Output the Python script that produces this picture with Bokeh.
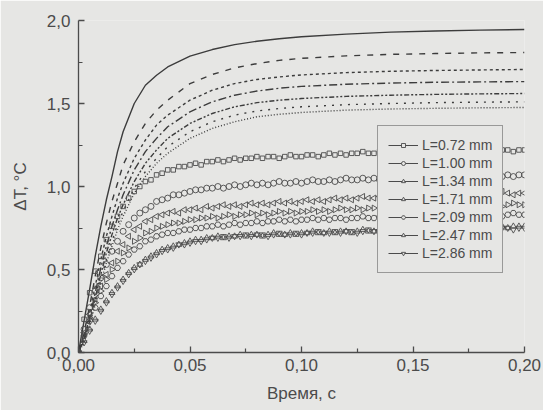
from bokeh.plotting import figure
from bokeh.models import FixedTicker, Legend, LegendItem
from bokeh.embed import file_html
from bokeh.resources import INLINE

# ---------------- data ----------------
x_ticks = [0.0, 0.05, 0.10, 0.15, 0.20]
x_tick_labels = ["0,00", "0,05", "0,10", "0,15", "0,20"]
x_minor = [0.025, 0.075, 0.125, 0.175]
y_ticks = [0.0, 0.5, 1.0, 1.5, 2.0]
y_tick_labels = ["0,0", "0,5", "1,0", "1,5", "2,0"]
y_minor = [0.25, 0.75, 1.25, 1.75]

# model (calculated) curves
t_model = [0, 0.0025, 0.005, 0.0075, 0.01, 0.0125, 0.015, 0.0175, 0.02, 0.025, 0.03, 0.035,
           0.04, 0.05, 0.06, 0.07, 0.08, 0.09, 0.10, 0.12, 0.14, 0.16, 0.18, 0.20]
model_solid = [0, 0.19, 0.38, 0.58, 0.76, 0.92, 1.06, 1.21, 1.33, 1.50, 1.61, 1.67,
               1.72, 1.785, 1.825, 1.855, 1.875, 1.89, 1.902, 1.918, 1.93, 1.937, 1.942, 1.946]
model_dash = [0, 0.12, 0.28, 0.46, 0.63, 0.78, 0.91, 1.02, 1.13, 1.27, 1.38, 1.46,
              1.52, 1.62, 1.675, 1.715, 1.74, 1.76, 1.772, 1.787, 1.796, 1.801, 1.805, 1.807]
model_dot = [0, 0.10, 0.24, 0.40, 0.56, 0.70, 0.82, 0.93, 1.02, 1.17, 1.28, 1.37,
             1.43, 1.52, 1.58, 1.62, 1.645, 1.66, 1.672, 1.686, 1.694, 1.699, 1.702, 1.705]
model_dashdot = [0, 0.09, 0.21, 0.36, 0.51, 0.64, 0.76, 0.86, 0.95, 1.10, 1.21, 1.29,
                 1.36, 1.45, 1.51, 1.55, 1.575, 1.592, 1.603, 1.616, 1.623, 1.628, 1.630, 1.632]
model_dashdotdot = [0, 0.08, 0.19, 0.33, 0.47, 0.60, 0.71, 0.81, 0.89, 1.03, 1.14, 1.22,
                    1.29, 1.38, 1.44, 1.48, 1.505, 1.52, 1.53, 1.543, 1.55, 1.555, 1.558, 1.56]
model_sparsedot = [0, 0.07, 0.18, 0.31, 0.44, 0.56, 0.67, 0.77, 0.85, 0.99, 1.09, 1.17,
                   1.24, 1.33, 1.39, 1.43, 1.455, 1.47, 1.48, 1.493, 1.50, 1.505, 1.508, 1.51]
model_densedot = [0, 0.06, 0.16, 0.29, 0.42, 0.54, 0.64, 0.74, 0.82, 0.96, 1.06, 1.14,
                  1.20, 1.29, 1.35, 1.39, 1.42, 1.435, 1.446, 1.46, 1.467, 1.471, 1.474, 1.476]

# experimental curves
t_exp = [0.0000, 0.0025, 0.0050, 0.0075, 0.0100, 0.0125, 0.0150, 0.0175, 0.0200, 0.0225,
         0.0250, 0.0275, 0.0300, 0.0325, 0.0350, 0.0375, 0.0400, 0.0425, 0.0450, 0.0475,
         0.0500, 0.0525, 0.0550, 0.0575, 0.0600, 0.0625, 0.0650, 0.0675, 0.0700, 0.0725,
         0.0750, 0.0775, 0.0800, 0.0825, 0.0850, 0.0875, 0.0900, 0.0925, 0.0950, 0.0975,
         0.1000, 0.1025, 0.1050, 0.1075, 0.1100, 0.1125, 0.1150, 0.1175, 0.1200, 0.1225,
         0.1250, 0.1275, 0.1300, 0.1325, 0.1350, 0.1375, 0.1400, 0.1425, 0.1450, 0.1475,
         0.1500, 0.1525, 0.1550, 0.1575, 0.1600, 0.1625, 0.1650, 0.1675, 0.1700, 0.1725,
         0.1750, 0.1775, 0.1800, 0.1825, 0.1850, 0.1875, 0.1900, 0.1925, 0.1950, 0.1975,
         0.2000]
exp_L072 = [0.00, 0.20, 0.36, 0.49, 0.58, 0.68, 0.76, 0.82, 0.88, 0.93,
            0.97, 1.00, 1.03, 1.04, 1.07, 1.08, 1.10, 1.10, 1.12, 1.12,
            1.13, 1.14, 1.13, 1.15, 1.15, 1.16, 1.15, 1.16, 1.17, 1.16,
            1.17, 1.17, 1.18, 1.17, 1.18, 1.18, 1.17, 1.18, 1.19, 1.18,
            1.18, 1.19, 1.19, 1.18, 1.19, 1.20, 1.19, 1.20, 1.19, 1.20,
            1.20, 1.21, 1.20, 1.20, 1.21, 1.20, 1.21, 1.21, 1.20, 1.21,
            1.21, 1.22, 1.21, 1.21, 1.22, 1.21, 1.22, 1.21, 1.22, 1.22,
            1.21, 1.22, 1.22, 1.21, 1.22, 1.23, 1.22, 1.22, 1.21, 1.22,
            1.22]
exp_L100 = [0.00, 0.14, 0.27, 0.37, 0.45, 0.53, 0.61, 0.67, 0.73, 0.77,
            0.81, 0.84, 0.86, 0.88, 0.91, 0.92, 0.93, 0.95, 0.95, 0.96,
            0.97, 0.98, 0.98, 0.99, 0.99, 1.00, 0.99, 1.00, 1.01, 1.00,
            1.01, 1.02, 1.01, 1.02, 1.01, 1.02, 1.03, 1.02, 1.02, 1.03,
            1.02, 1.03, 1.04, 1.03, 1.03, 1.04, 1.03, 1.04, 1.05, 1.04,
            1.04, 1.05, 1.04, 1.05, 1.04, 1.05, 1.06, 1.05, 1.05, 1.06,
            1.05, 1.06, 1.05, 1.06, 1.06, 1.05, 1.06, 1.07, 1.06, 1.06,
            1.07, 1.06, 1.06, 1.07, 1.06, 1.07, 1.06, 1.07, 1.06, 1.07,
            1.07]
exp_L134 = [0.00, 0.12, 0.23, 0.32, 0.40, 0.47, 0.54, 0.61, 0.65, 0.70,
            0.74, 0.76, 0.79, 0.80, 0.82, 0.83, 0.84, 0.85, 0.84, 0.86,
            0.86, 0.87, 0.86, 0.88, 0.87, 0.88, 0.89, 0.88, 0.89, 0.88,
            0.89, 0.90, 0.89, 0.90, 0.89, 0.90, 0.91, 0.90, 0.91, 0.90,
            0.91, 0.92, 0.91, 0.92, 0.91, 0.92, 0.93, 0.92, 0.93, 0.92,
            0.93, 0.94, 0.93, 0.93, 0.94, 0.93, 0.94, 0.95, 0.94, 0.94,
            0.95, 0.94, 0.95, 0.94, 0.95, 0.96, 0.95, 0.95, 0.96, 0.95,
            0.96, 0.95, 0.96, 0.96, 0.95, 0.96, 0.97, 0.96, 0.95, 0.96,
            0.96]
exp_L171 = [0.00, 0.11, 0.21, 0.30, 0.37, 0.44, 0.50, 0.55, 0.60, 0.63,
            0.67, 0.69, 0.72, 0.73, 0.75, 0.76, 0.77, 0.78, 0.78, 0.79,
            0.80, 0.80, 0.81, 0.81, 0.82, 0.81, 0.82, 0.83, 0.82, 0.83,
            0.83, 0.84, 0.83, 0.84, 0.83, 0.84, 0.85, 0.84, 0.85, 0.84,
            0.85, 0.85, 0.86, 0.85, 0.86, 0.85, 0.86, 0.87, 0.86, 0.86,
            0.87, 0.86, 0.87, 0.87, 0.86, 0.87, 0.88, 0.87, 0.87, 0.88,
            0.87, 0.88, 0.87, 0.88, 0.88, 0.87, 0.88, 0.89, 0.88, 0.88,
            0.89, 0.88, 0.89, 0.88, 0.89, 0.89, 0.88, 0.89, 0.90, 0.89,
            0.89]
exp_L209 = [0.00, 0.10, 0.19, 0.27, 0.34, 0.40, 0.46, 0.51, 0.55, 0.59,
            0.62, 0.64, 0.67, 0.68, 0.70, 0.71, 0.72, 0.72, 0.73, 0.74,
            0.74, 0.75, 0.75, 0.76, 0.76, 0.77, 0.76, 0.77, 0.78, 0.77,
            0.78, 0.78, 0.79, 0.78, 0.79, 0.79, 0.80, 0.79, 0.80, 0.79,
            0.80, 0.80, 0.81, 0.80, 0.81, 0.80, 0.81, 0.81, 0.80, 0.81,
            0.81, 0.82, 0.81, 0.81, 0.82, 0.81, 0.82, 0.82, 0.81, 0.82,
            0.82, 0.83, 0.82, 0.82, 0.83, 0.82, 0.83, 0.82, 0.83, 0.83,
            0.82, 0.83, 0.83, 0.84, 0.83, 0.83, 0.82, 0.83, 0.84, 0.83,
            0.83]
exp_L247 = [0.00, 0.07, 0.14, 0.20, 0.26, 0.31, 0.36, 0.40, 0.44, 0.48,
            0.51, 0.53, 0.56, 0.58, 0.60, 0.62, 0.63, 0.64, 0.65, 0.66,
            0.67, 0.68, 0.68, 0.69, 0.69, 0.70, 0.69, 0.70, 0.70, 0.71,
            0.70, 0.71, 0.71, 0.70, 0.71, 0.72, 0.71, 0.71, 0.72, 0.71,
            0.72, 0.72, 0.73, 0.72, 0.72, 0.73, 0.72, 0.73, 0.73, 0.72,
            0.73, 0.74, 0.73, 0.73, 0.74, 0.73, 0.74, 0.74, 0.73, 0.74,
            0.74, 0.75, 0.74, 0.74, 0.75, 0.74, 0.75, 0.75, 0.74, 0.75,
            0.75, 0.76, 0.75, 0.75, 0.76, 0.75, 0.76, 0.75, 0.76, 0.76,
            0.76]
exp_L286 = [0.00, 0.06, 0.13, 0.19, 0.25, 0.30, 0.35, 0.39, 0.43, 0.47,
            0.50, 0.53, 0.55, 0.57, 0.59, 0.61, 0.62, 0.63, 0.65, 0.65,
            0.66, 0.67, 0.67, 0.68, 0.69, 0.69, 0.70, 0.69, 0.70, 0.70,
            0.71, 0.70, 0.71, 0.71, 0.70, 0.71, 0.72, 0.71, 0.71, 0.72,
            0.71, 0.72, 0.72, 0.73, 0.72, 0.72, 0.73, 0.72, 0.73, 0.73,
            0.72, 0.73, 0.74, 0.73, 0.73, 0.74, 0.73, 0.74, 0.74, 0.73,
            0.74, 0.74, 0.75, 0.74, 0.74, 0.75, 0.74, 0.75, 0.75, 0.74,
            0.75, 0.75, 0.74, 0.75, 0.75, 0.76, 0.75, 0.75, 0.74, 0.75,
            0.75]
legend_labels = ["L=0.72 mm", "L=1.00 mm", "L=1.34 mm", "L=1.71 mm",
                 "L=2.09 mm", "L=2.47 mm", "L=2.86 mm"]

# ---------------- styling ----------------
PAPER = "#e6e6e4"
INK = "#4b4b4b"
LINE = "#3c3c3c"
FONT = "Liberation Sans"

p = figure(width=543, height=410, x_range=(0, 0.2), y_range=(0, 2.0),
           output_backend="svg", toolbar_location=None,
           min_border_left=78, min_border_right=19, min_border_top=20, min_border_bottom=58)
p.background_fill_color = PAPER
p.border_fill_color = PAPER
p.outline_line_color = None
p.grid.visible = False

# model curves
model_series = [model_solid, model_dash, model_dot, model_dashdot,
                model_dashdotdot, model_sparsedot, model_densedot]
model_dashes = ["solid", "6 7", "3 3", "8 3 2 3", "5 2 2 2 2 2", "2 6", "1 2"]
for ys, dash in zip(model_series, model_dashes):
    p.line(t_model, ys, line_color=LINE, line_width=1.4, line_dash=dash)

# experimental markers
exp_series = [exp_L072, exp_L100, exp_L134, exp_L171, exp_L209, exp_L247, exp_L286]
markers = ["square", "circle", "triangle", "triangle", "hex", "triangle", "inverted_triangle"]
angles = [0, 0, 1.5708, -1.5708, 0, 0, 0]
sizes = [4.5, 6, 6, 6, 6, 6, 6]
for ys, mk, ang, sz in zip(exp_series, markers, angles, sizes):
    p.scatter(t_exp, ys, marker=mk, angle=ang, size=sz, line_color=INK,
              line_width=0.9, fill_color=None)

# legend samples (line + marker); hidden renderers used only for the legend glyphs
items = []
for ys, lab, mk, ang in zip(exp_series, legend_labels, markers, angles):
    lr = p.line(t_exp, ys, line_color=INK, line_width=1.0, visible=False)
    sr = p.scatter(t_exp, ys, marker=mk, angle=ang, size=5, line_color=INK,
                   line_width=0.9, fill_color=PAPER, visible=False)
    items.append(LegendItem(label=lab, renderers=[lr, sr]))
legend = Legend(items=items, location=(299, 79))
legend.border_line_color = INK
legend.border_line_width = 1
legend.background_fill_color = PAPER
legend.background_fill_alpha = 1.0
legend.label_text_font = FONT
legend.label_text_font_size = "14px"
legend.label_text_color = INK
legend.glyph_width = 30
legend.glyph_height = 10
legend.label_height = 18
legend.spacing = 0
legend.padding = 10
legend.margin = 0
legend.label_standoff = 4
p.add_layout(legend)

# axes
p.xaxis.ticker = FixedTicker(ticks=x_ticks, minor_ticks=x_minor)
p.yaxis.ticker = FixedTicker(ticks=y_ticks, minor_ticks=y_minor)
p.xaxis.major_label_overrides = dict(zip(x_ticks, x_tick_labels))
p.yaxis.major_label_overrides = dict(zip(y_ticks, y_tick_labels))
p.xaxis.axis_label = "Время, с"
p.yaxis.axis_label = "ΔT, °C"
for ax in (p.xaxis, p.yaxis):
    ax.axis_line_color = INK
    ax.axis_line_width = 1.3
    ax.major_tick_line_color = INK
    ax.minor_tick_line_color = INK
    ax.major_tick_line_width = 1.3
    ax.minor_tick_line_width = 1.2
    ax.major_tick_in = 6
    ax.major_tick_out = 0
    ax.minor_tick_in = 4
    ax.minor_tick_out = 0
    ax.major_label_text_font = FONT
    ax.major_label_text_font_size = "17px"
    ax.major_label_text_color = INK
    ax.axis_label_text_font = FONT
    ax.axis_label_text_font_size = "17px"
    ax.axis_label_text_font_style = "normal"
    ax.axis_label_text_color = INK
p.xaxis.major_label_standoff = 6
p.xaxis.axis_label_standoff = 10
p.yaxis.major_label_standoff = 8
p.yaxis.axis_label_standoff = 14

open("out.html", "w").write(file_html(p, INLINE))
